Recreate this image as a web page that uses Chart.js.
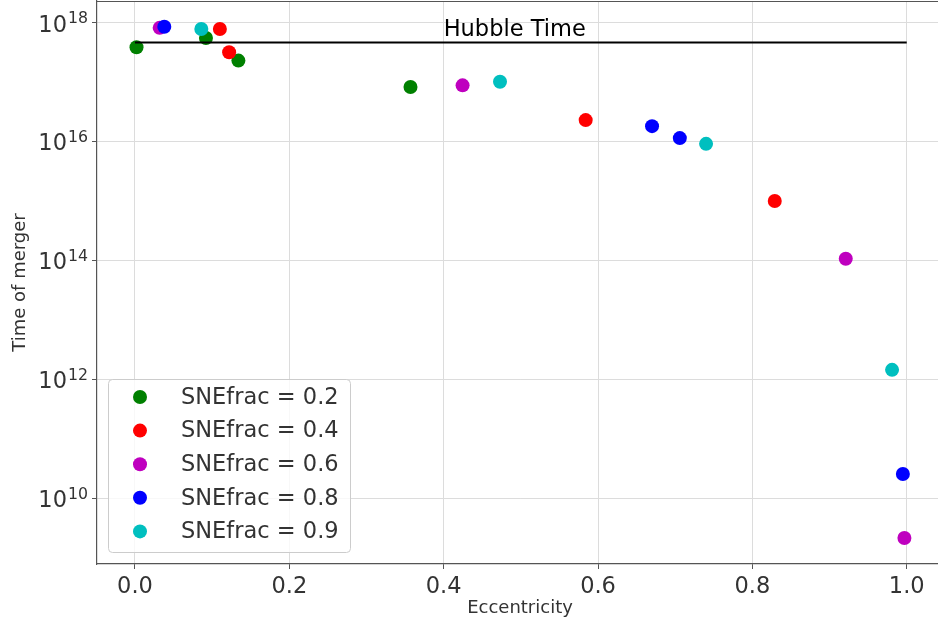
<!DOCTYPE html>
<html>
<head>
<meta charset="utf-8">
<script src="https://cdn.jsdelivr.net/npm/chart.js@4"></script>
<style>
    body { margin: 0; background: #fff; overflow: hidden; }
    .wrap { width: 938px; height: 623px; overflow: hidden; }
</style>
</head>
<body>
<div class="wrap"><canvas id="c" width="943" height="623"></canvas></div>
<script>
// tick positions
const xTicks = [0.0, 0.2, 0.4, 0.6, 0.8, 1.0];
const yTicks = [1e10, 1e12, 1e14, 1e16, 1e18];

// series (eccentricity, time of merger)
const seriesLabels = ['SNEfrac = 0.2', 'SNEfrac = 0.4', 'SNEfrac = 0.6', 'SNEfrac = 0.8', 'SNEfrac = 0.9'];
const ecc02 = [0.002, 0.092, 0.134, 0.357];
const tm02  = [3.85e17, 5.5e17, 2.29e17, 8.24e16];
const ecc04 = [0.110, 0.122, 0.584, 0.829];
const tm04  = [7.76e17, 3.16e17, 2.29e16, 1.0e15];
const ecc06 = [0.032, 0.4245, 0.921, 0.997];
const tm06  = [8.13e17, 8.79e16, 1.07e14, 2.16e9];
const ecc08 = [0.038, 0.670, 0.706, 0.995];
const tm08  = [8.51e17, 1.81e16, 1.14e16, 2.57e10];
const ecc09 = [0.086, 0.473, 0.740, 0.981];
const tm09  = [7.76e17, 1.01e17, 9.12e15, 1.45e12];

// hubble time line
const hubbleX = [0, 1];
const hubbleTime = 4.6e17;
const hubbleLabel = 'Hubble Time';
const hubbleLabelPos = [0.4, 6.0e17];

const seriesX = [ecc02, ecc04, ecc06, ecc08, ecc09];
const seriesY = [tm02, tm04, tm06, tm08, tm09];
const seriesColors = ['#008000', '#ff0000', '#bf00bf', '#0000ff', '#00bfbf'];

const FONT = 'DejaVu Sans';
const TXT = '#333333';
const BIG = 22.5;

const datasets = seriesLabels.map((label, i) => ({
    label: label,
    data: seriesX[i].map((x, j) => ({ x: x, y: seriesY[i][j] })),
    backgroundColor: seriesColors[i],
    borderWidth: 0,
    pointRadius: 7,
    pointHoverRadius: 7,
    showLine: false,
    order: seriesLabels.length - i
}));

datasets.push({
    label: '',
    type: 'line',
    data: hubbleX.map(x => ({ x: x, y: hubbleTime })),
    borderColor: '#000000',
    borderWidth: 2,
    pointRadius: 0,
    fill: false,
    order: 0
});

// top spine, y tick labels (10 with exponent), hubble label and legend box
const extras = {
    id: 'extras',
    afterDatasetsDraw(chart) {
        const ctx = chart.ctx;
        const a = chart.chartArea;
        const xs = chart.scales.x, ys = chart.scales.y;
        ctx.save();
        ctx.strokeStyle = '#555555';
        ctx.lineWidth = 1.2;
        ctx.beginPath();
        ctx.moveTo(a.left, a.top + 0.5);
        ctx.lineTo(a.right, a.top + 0.5);
        ctx.stroke();

        // y tick labels
        ctx.fillStyle = TXT;
        ctx.textAlign = 'right';
        ctx.textBaseline = 'alphabetic';
        const xr = a.left - 9;
        ys.ticks.forEach(t => {
            const py = ys.getPixelForValue(t.value);
            const exp = String(Math.round(Math.log10(t.value)));
            ctx.font = (BIG * 0.7) + 'px "' + FONT + '"';
            const w = ctx.measureText(exp).width;
            ctx.fillText(exp, xr, py + 0.5);
            ctx.font = BIG + 'px "' + FONT + '"';
            ctx.fillText('10', xr - w - 1, py + 9);
        });

        ctx.fillStyle = '#000000';
        ctx.font = BIG + 'px "' + FONT + '"';
        ctx.textAlign = 'left';
        ctx.fillText(hubbleLabel, xs.getPixelForValue(hubbleLabelPos[0]), ys.getPixelForValue(hubbleLabelPos[1]));

        // legend
        const bx = a.left + 11, bw = 242, bh = 173, by = a.bottom - 12 - bh;
        ctx.fillStyle = 'rgba(255,255,255,0.8)';
        ctx.strokeStyle = '#cccccc';
        ctx.lineWidth = 1;
        ctx.beginPath();
        ctx.roundRect(bx + 0.5, by + 0.5, bw, bh, 4);
        ctx.fill();
        ctx.stroke();
        ctx.font = BIG + 'px "' + FONT + '"';
        ctx.textBaseline = 'middle';
        chart.data.datasets.forEach((ds, i) => {
            if (!ds.label) return;
            const cy = by + 18 + i * 33.6;
            ctx.fillStyle = ds.backgroundColor;
            ctx.beginPath();
            ctx.arc(bx + 32, cy, 7, 0, Math.PI * 2);
            ctx.fill();
            ctx.fillStyle = TXT;
            ctx.fillText(ds.label, bx + 73, cy + 1);
        });
        ctx.restore();
    }
};

function noPad(s) {
    s.paddingTop = 0; s.paddingBottom = 0; s.paddingLeft = 0; s.paddingRight = 0;
}

new Chart(document.getElementById('c'), {
    type: 'scatter',
    data: { datasets: datasets },
    options: {
        responsive: false,
        devicePixelRatio: 1,
        animation: false,
        layout: { autoPadding: false, padding: { top: 1, left: 0, right: 0, bottom: 0 } },
        plugins: { legend: { display: false }, tooltip: { enabled: false } },
        scales: {
            x: {
                type: 'linear',
                min: -0.0492,
                max: 1.047,
                afterFit(s) { s.height = 59; noPad(s); },
                afterBuildTicks(s) { s.ticks = xTicks.map(v => ({ value: v })); },
                ticks: {
                    color: TXT,
                    font: { family: FONT, size: BIG },
                    padding: 5,
                    maxRotation: 0,
                    callback: v => Number(v).toFixed(1)
                },
                grid: { color: '#dcdcdc', lineWidth: 1, tickLength: 5, tickColor: '#555555' },
                border: { color: '#555555', width: 1.2 },
                title: {
                    display: true,
                    text: 'Eccentricity',
                    color: TXT,
                    font: { family: FONT, size: 18 },
                    padding: { top: 0, bottom: 4 }
                }
            },
            y: {
                type: 'logarithmic',
                min: 7.9e8,
                max: 2.3e18,
                afterFit(s) { s.width = 97; noPad(s); },
                afterBuildTicks(s) { s.ticks = yTicks.map(v => ({ value: v })); },
                ticks: {
                    display: false,
                    callback: v => '10^' + Math.round(Math.log10(v))
                },
                grid: { color: '#dcdcdc', lineWidth: 1, tickLength: 5, tickColor: '#555555' },
                border: { color: '#555555', width: 1.2 },
                title: {
                    display: true,
                    text: 'Time of merger',
                    color: TXT,
                    font: { family: FONT, size: 18 },
                    padding: { top: 10, bottom: 0 }
                }
            }
        }
    },
    plugins: [extras]
});
</script>
</body>
</html>
